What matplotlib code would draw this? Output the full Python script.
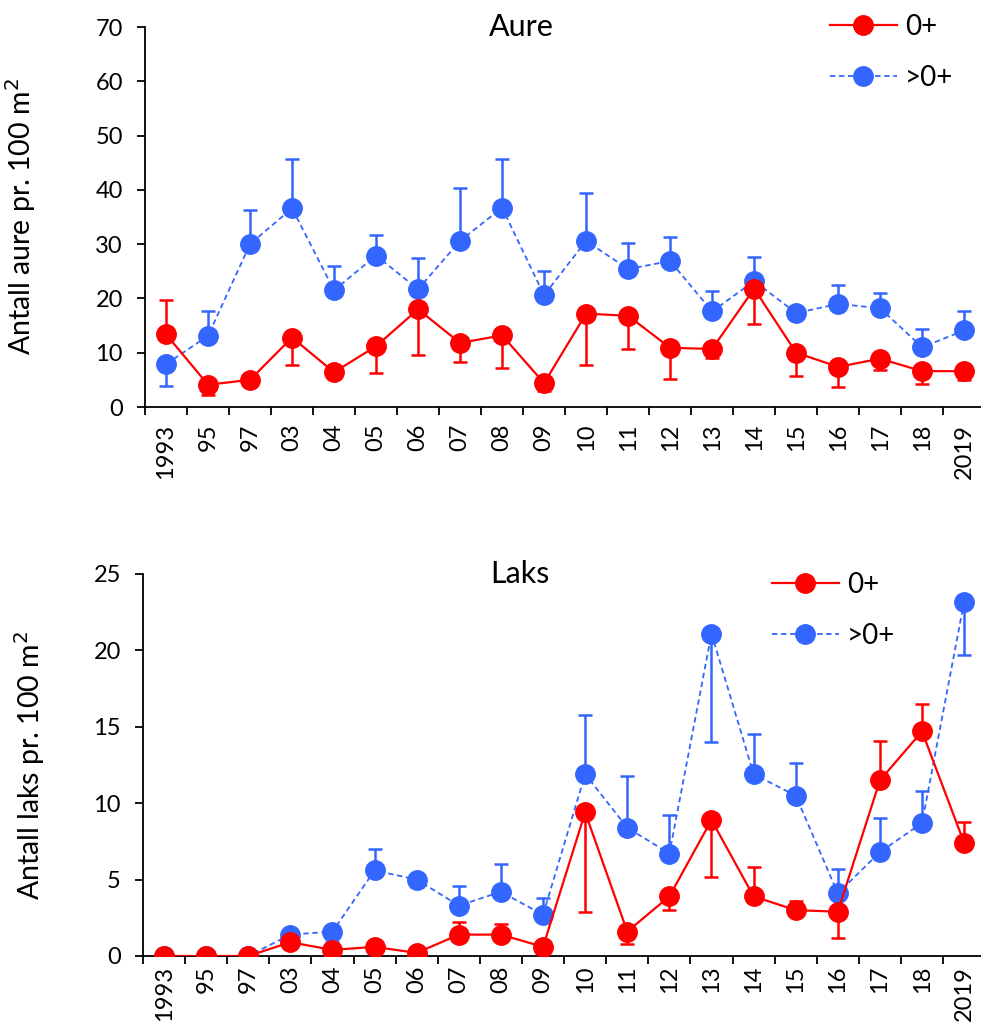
import numpy as np
import matplotlib.pyplot as plt
from matplotlib.lines import Line2D

plt.rcParams['font.family'] = ['Lato', 'DejaVu Sans']

years = ['1993', '95', '97', '03', '04', '05', '06', '07', '08', '09',
         '10', '11', '12', '13', '14', '15', '16', '17', '18', '2019']

# Aure (trout)
aure_0 = [13.4, 4.1, 5.0, 12.8, 6.4, 11.2, 18.0, 11.8, 13.2, 4.4,
          17.2, 16.8, 10.9, 10.7, 21.8, 10.0, 7.4, 8.9, 6.6, 6.6]
aure_0_lo = [0, 1.8, 0.7, 5.1, 0.6, 4.9, 8.5, 3.5, 6.0, 1.4,
             9.4, 6.1, 5.7, 1.6, 6.6, 4.2, 3.8, 2.0, 2.3, 1.7]
aure_0_hi = [6.4, 0, 0, 0, 0, 0, 0, 0, 0, 0,
             0, 0, 0, 0, 0, 0, 0, 0, 0, 0]
aure_1 = [7.9, 13.1, 30.0, 36.6, 21.5, 27.9, 21.7, 30.6, 36.7, 20.6,
          30.6, 25.4, 26.9, 17.6, 23.2, 17.3, 19.0, 18.2, 11.0, 14.1]
aure_1_lo = [4.0, 0, 0, 0, 0, 0, 0, 0, 0, 0,
             0, 0, 0, 0, 0, 0, 0, 0, 0, 0]
aure_1_hi = [0, 4.5, 6.2, 9.1, 4.4, 3.8, 5.7, 9.7, 9.0, 4.4,
             8.8, 4.8, 4.4, 3.8, 4.5, 0.7, 3.4, 2.8, 3.4, 3.6]

# Laks (salmon)
laks_0 = [0, 0, 0, 0.9, 0.4, 0.6, 0.2, 1.4, 1.4, 0.6,
          9.4, 1.6, 3.9, 8.9, 3.9, 3.0, 2.9, 11.5, 14.7, 7.4]
laks_0_lo = [0, 0, 0, 0.4, 0, 0, 0, 0, 0, 0,
             6.5, 0.8, 0.9, 3.7, 0, 0, 1.7, 0, 0, 0]
laks_0_hi = [0, 0, 0, 0, 0, 0, 0, 0.8, 0.7, 0,
             0, 0, 0, 0, 1.9, 0.6, 0, 2.6, 1.8, 1.4]
laks_1 = [0, 0, 0, 1.4, 1.6, 5.6, 5.0, 3.3, 4.2, 2.7,
          11.9, 8.4, 6.7, 21.1, 11.9, 10.5, 4.1, 6.8, 8.7, 23.2]
laks_1_lo = [0, 0, 0, 0, 0.7, 0, 0.5, 0, 0, 0,
             0, 0, 0, 7.1, 0, 0, 0, 0, 0, 3.5]
laks_1_hi = [0, 0, 0, 0, 0, 1.4, 0, 1.3, 1.8, 1.1,
             3.9, 3.4, 2.5, 0, 2.6, 2.1, 1.6, 2.2, 2.1, 0]

RED = '#ff0000'
BLUE = '#3366ff'

fig = plt.figure(figsize=(9.81, 10.23), dpi=100)
ax1 = fig.add_axes([145/981, 1-407/1023, 836/981, 380/1023])
ax2 = fig.add_axes([143/981, 1-956/1023, 838/981, 382/1023])

x = np.arange(len(years))


def draw(ax, y0, lo0, hi0, y1, lo1, hi1, ymax, ystep, title, ylabel,
         label_x, xpad, leg_anchor):
    ax.errorbar(x, y0, yerr=[lo0, hi0], fmt='o-', color=RED, lw=1.6,
                ms=14, elinewidth=1.8, capsize=5, capthick=1.8, zorder=3)
    ax.errorbar(x, y1, yerr=[lo1, hi1], fmt='o--', color=BLUE, lw=1.3,
                ms=14, elinewidth=1.8, capsize=5, capthick=1.8, zorder=2,
                dashes=(3, 2))
    ax.set_xlim(-0.5, 19.4)
    ax.set_ylim(0, ymax)
    ax.set_yticks(np.arange(0, ymax + 1, ystep))
    ax.set_xticks(x)
    ax.set_xticklabels(years, rotation=90, fontsize=17)
    ax.tick_params(axis='x', length=0, pad=xpad)
    ax.set_xticks(np.arange(-0.5, 19.5, 1), minor=True)
    ax.tick_params(axis='x', which='minor', length=6, width=1.3)
    ax.tick_params(axis='y', labelsize=17, length=6, width=1.3, pad=10)
    for s in ['top', 'right']:
        ax.spines[s].set_visible(False)
    for s in ['left', 'bottom']:
        ax.spines[s].set_linewidth(1.3)
    ax.set_ylabel(ylabel, fontsize=20.5)
    ax.yaxis.set_label_coords(label_x, 0.5)
    ax.text(0.45, 1.0, title, transform=ax.transAxes, ha='center', va='center',
            fontsize=22)
    handles = [Line2D([], [], color=RED, lw=1.6, marker='o', ms=14),
               Line2D([], [], color=BLUE, lw=1.3, ls='--', dashes=(3, 2),
                      marker='o', ms=14)]
    ax.legend(handles, ['0+', '>0+'], loc='upper left', bbox_to_anchor=leg_anchor,
              bbox_transform=fig.transFigure, frameon=False, fontsize=20,
              handlelength=2.4, handletextpad=0.3, labelspacing=0.9,
              borderaxespad=0, borderpad=0)


draw(ax1, aure_0, aure_0_lo, aure_0_hi, aure_1, aure_1_lo, aure_1_hi,
     70, 10, 'Aure', 'Antall aure pr. 100 m$^2$', -0.128, 12,
     (830/981, 1-14/1023))
draw(ax2, laks_0, laks_0_lo, laks_0_hi, laks_1, laks_1_lo, laks_1_hi,
     25, 5, 'Laks', 'Antall laks pr. 100 m$^2$', -0.114, 7,
     (772/981, 1-572/1023))

fig.savefig('out.png', dpi=100)
